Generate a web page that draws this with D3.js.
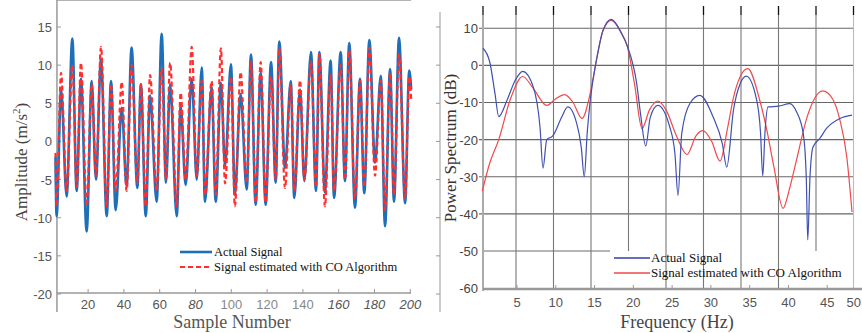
<!DOCTYPE html>
<html>
<head>
<meta charset="utf-8">
<script src="https://cdn.jsdelivr.net/npm/d3@7"></script>
<style>
  body { margin: 0; background: #fff; }
</style>
</head>
<body>
<script>
// left panel: peaks / troughs
var sampleIdx = [1.8, 2.4, 4.9, 8.0, 11.2, 13.6, 16.0, 19.2, 22.0, 24.4,
  27.2, 30.4, 32.8, 35.4, 38.8, 41.5, 44.3, 47.5, 49.5, 52.2,
  54.6, 58.3, 61.1, 63.5, 65.8, 69.5, 71.7, 74.5, 77.9, 80.7,
  83.5, 85.3, 89.0, 91.3, 94.2, 96.5, 99.8, 102.0, 105.2, 108.6,
  111.0, 113.6, 116.4, 119.2, 122.2, 124.8, 126.8, 130.0, 133.2, 135.2,
  138.4, 140.8, 144.5, 147.3, 149.2, 152.3, 155.5, 157.4, 161.1, 163.5,
  165.9, 169.1, 171.9, 174.3, 177.1, 180.3, 183.5, 185.9, 188.7, 190.9,
  193.7, 197.1, 199.4, 200.5];
var actualSig = [-2, -9.8, 6.8, -7.2, 13.5, -6.5, 8.2, -11.8, 7.9, -5,
  10.8, -9.8, 7.9, -9, 4.4, -5.9, 12.3, -6.1, 7.5, -9.8,
  6, -7.9, 14.1, -5.4, 7.5, -9.8, 4.6, -5.7, 8.2, -5,
  9.7, -7.9, 7.1, -7.9, 7.7, -3.2, 10.1, -7, 6.2, -6.3,
  11.4, -8.3, 9, -8.3, 10.4, -5.4, 13.1, -3.5, 7.9, -7.4,
  6.8, -5.2, 11.7, -6.5, 11.7, -6.7, 10.6, -7.4, 11.7, -5.2,
  12.9, -8.7, 8.2, -6.8, 13.3, -2.8, 8.6, -11.1, 9.5, -7.9,
  13.6, -8.1, 9.3, 6.8];
var estSig = [-1.5, -8.5, 9, -6.5, 10, -6, 10.3, -8.5, 7.5, -4.5,
  12.4, -8.5, 7.5, -6.5, 7.8, -6.5, 10, -5.5, 7.5, -8.5,
  8.7, -6.5, 9.6, -5, 10.3, -8.5, 6.4, -5, 12.4, -4.5,
  8, -7, 7.9, -7, 12.2, -5.5, 8.5, -8.5, 9.1, -5.5,
  10.5, -8, 10.4, -8, 8.5, -5, 12.3, -6.1, 7.5, -6.5,
  8, -5, 10.5, -6, 11.5, -8.5, 8.8, -6.5, 10, -5,
  12, -7.5, 8, -6, 12.3, -4.5, 8, -9, 9, -7,
  11.4, -7.5, 8.5, 5.5];
var sampleTicks = [20, 40, 60, 80, 100, 120, 140, 160, 180, 200];
var ampTicks = [-20, -15, -10, -5, 0, 5, 10, 15];

// right panel: power spectrum
var freqA = [0.6, 1.5, 2.2, 2.7, 3.8, 4.9, 5.9, 7.3, 8.2, 8.6, 9.1, 9.9, 11.1, 11.9, 13.1, 13.7, 14.1, 14.5, 14.9,
  15.8, 16.6, 17.7, 19.1, 19.8, 21.1, 21.6, 22.3, 22.9, 23.9, 25.5, 26.2, 26.6, 27.1, 28.2, 29.5,
  31.3, 32.5, 33.1, 34.0, 34.9, 35.7, 37.1, 37.6, 37.9, 38.2, 38.6, 40.0, 41.5, 42.4, 43.3, 43.7,
  43.9, 44.2, 44.6, 45.5, 46.4, 48.2, 49.8];
var powA = [4.6, 0.9, -7.6, -13.8, -9.4, -4, -1.6, -5.8, -16.6, -27.7, -20, -19, -13.9, -11.2, -15.7, -22, -30, -18, -9.4,
  2.2, 9.4, 12.4, 8.5, 5.4, -5, -13, -21.7, -14, -10.8, -16.6, -24, -35, -18.3, -10.2, -8.1,
  -14, -21, -27.4, -12, -4.9, -2.9, -9.4, -18, -29.8, -18, -11.2, -11, -10.3, -12.5, -18.4, -30,
  -47, -30, -22, -19.7, -17, -14.3, -13.4];
var freqE = [0.5, 1.5, 2.7, 4.2, 5.9, 7.3, 9.1, 10.3, 11.5, 12.6, 13.8, 14.9, 15.8, 16.6, 17.7, 19.1, 19.8,
  20.8, 21.8, 22.8, 23.9, 25.0, 26.4, 27.8, 29.0, 29.9, 31.1, 32.2, 33.2, 34.0, 34.9, 35.9,
  37.5, 38.5, 39.4, 40.6, 41.5, 42.4, 43.8, 45.9, 47.2, 48.2, 49.1, 49.8];
var powE = [-33.9, -26.3, -20, -9.4, -3, -6.2, -10.8, -9, -7.9, -10, -14.3, -7.5, 2.2, 9.4, 12.1, 8.5, 5.4,
  -5, -17, -12, -9.6, -12, -19, -24, -19, -17.6, -20.5, -25.8, -17, -8.6, -3, -0.9,
  -9.4, -18, -27.5, -38.5, -33, -25.5, -14, -6.9, -9, -14.8, -24.6, -39.5];
var freqTicks = [5, 10, 15, 20, 25, 30, 35, 40, 45, 50];
var dbTicks = [-60, -50, -40, -30, -20, -10, 0, 10];

var sans = "'Liberation Sans', Arial, sans-serif";
var serif = "'Liberation Serif', 'Times New Roman', serif";

var svg = d3.select("body").append("svg")
    .attr("width", 862)
    .attr("height", 333);

// ---------- left panel ----------
var xS = d3.scaleLinear().domain([0, 200]).range([52.3, 410.3]);
var yA = d3.scaleLinear().domain([-20, 15]).range([294, 27]);
var left = xS(2.6), right = 411, top = 12, bottom = 293;

var L = svg.append("g");

// frame
L.append("line").attr("x1", left).attr("x2", left).attr("y1", top).attr("y2", 312)
  .attr("stroke", "#999").attr("stroke-width", 1.5);
L.append("line").attr("x1", left).attr("x2", right).attr("y1", bottom).attr("y2", bottom)
  .attr("stroke", "#999").attr("stroke-width", 1.5);
L.append("line").attr("x1", left).attr("x2", right).attr("y1", top).attr("y2", top)
  .attr("stroke", "#999").attr("stroke-width", 1.5);

// ticks
L.selectAll(".xtb").data(sampleTicks).enter().append("line")
  .attr("x1", d => xS(d)).attr("x2", d => xS(d))
  .attr("y1", bottom).attr("y2", bottom - 4).attr("stroke", "#999");
L.selectAll(".xtt").data(sampleTicks).enter().append("line")
  .attr("x1", d => xS(d)).attr("x2", d => xS(d))
  .attr("y1", top).attr("y2", top + 4).attr("stroke", "#999");
L.selectAll(".yt").data(ampTicks).enter().append("line")
  .attr("x1", left).attr("x2", left + 4)
  .attr("y1", d => yA(d)).attr("y2", d => yA(d)).attr("stroke", "#999");

L.selectAll(".xl").data(sampleTicks).enter().append("text")
  .attr("x", d => xS(d)).attr("y", 309)
  .attr("text-anchor", "middle")
  .attr("font-family", sans).attr("font-size", 13)
  .attr("font-style", d => (d == 80 || d >= 160) ? "italic" : "normal")
  .attr("fill", d => (d >= 100 && d <= 140) ? "#888" : "#555")
  .text(d => d);
L.selectAll(".yl").data(ampTicks).enter().append("text")
  .attr("x", 52).attr("y", d => yA(d) + 5)
  .attr("text-anchor", "end")
  .attr("font-family", sans).attr("font-size", 13)
  .attr("fill", "#555")
  .text(d => d);

// axis titles
var yt = L.append("text")
  .attr("transform", "translate(27,162) rotate(-90)")
  .attr("text-anchor", "middle")
  .attr("font-family", serif).attr("font-size", 17)
  .attr("fill", "#444");
yt.append("tspan").text("Amplitude (m/s");
yt.append("tspan").attr("font-size", 11).attr("dy", -7).text("2");
yt.append("tspan").attr("dy", 7).text(")");

L.append("text").attr("x", 232).attr("y", 328)
  .attr("text-anchor", "middle")
  .attr("font-family", serif).attr("font-size", 18)
  .attr("fill", "#555").text("Sample Number");

// signals
var sigLine = d3.line().curve(d3.curveMonotoneX)
  .x(d => xS(d[0])).y(d => yA(d[1]));
L.append("path")
  .attr("d", sigLine(sampleIdx.map((s, i) => [s, actualSig[i]])))
  .attr("fill", "none").attr("stroke", "#1f6fb8").attr("stroke-width", 2.6)
  .attr("stroke-linejoin", "round");
L.append("path")
  .attr("d", sigLine(sampleIdx.map((s, i) => [s, estSig[i]])))
  .attr("fill", "none").attr("stroke", "#ff2f2f").attr("stroke-width", 2.2)
  .attr("stroke-dasharray", "5,3");

// legend
L.append("line").attr("x1", 180).attr("x2", 212).attr("y1", 252).attr("y2", 252)
  .attr("stroke", "#1f6fb8").attr("stroke-width", 2.6);
L.append("line").attr("x1", 180).attr("x2", 212).attr("y1", 267).attr("y2", 267)
  .attr("stroke", "#ff2f2f").attr("stroke-width", 2.2).attr("stroke-dasharray", "5,3");
L.append("text").attr("x", 214).attr("y", 256)
  .attr("font-family", serif).attr("font-size", 12.5).attr("fill", "#111")
  .text("Actual Signal");
L.append("text").attr("x", 214).attr("y", 271)
  .attr("font-family", serif).attr("font-size", 12.5).attr("fill", "#111")
  .text("Signal estimated with CO Algorithm");

// ---------- right panel ----------
var xF = d3.scaleLinear().domain([0, 50]).range([478.5, 853.5]);
// the tick labels in the figure sit on a slightly wider spacing than the grid
var xFL = d3.scaleLinear().domain([5, 50]).range([517, 866]);
var yD = d3.scaleLinear().domain([-60, 10]).range([288.2, 28.2]);
var pl = xF(0.6), pr = 853, pt = 15, pb = 289;

var R = svg.append("g");

// stray outer axis
R.append("line").attr("x1", 440).attr("x2", 440).attr("y1", 12).attr("y2", 312)
  .attr("stroke", "#aaa").attr("stroke-width", 1.2);
R.selectAll(".st").data(ampTicks).enter().append("line")
  .attr("x1", 436).attr("x2", 440)
  .attr("y1", d => yA(d)).attr("y2", d => yA(d)).attr("stroke", "#999");

// horizontal grid
R.selectAll(".hg").data(dbTicks.filter(d => d > -50)).enter().append("line")
  .attr("x1", pl - 4).attr("x2", pr)
  .attr("y1", d => yD(d)).attr("y2", d => yD(d))
  .attr("stroke", "#666").attr("stroke-width", 1.1);
R.append("line").attr("x1", pl).attr("x2", 610)
  .attr("y1", yD(-50)).attr("y2", yD(-50))
  .attr("stroke", "#b5b5b5").attr("stroke-width", 2);

// vertical grid
R.selectAll(".vg").data(freqTicks).enter().append("line")
  .attr("x1", d => xF(d)).attr("x2", d => xF(d))
  .attr("y1", pt)
  .attr("y2", d => (d == 20 || d == 45) ? yD(-50) : pb)
  .attr("stroke", d => d == 50 ? "#bbb" : "#777").attr("stroke-width", 1.1);

// top black ticks
R.selectAll(".tt").data([0.6].concat(freqTicks)).enter().append("line")
  .attr("x1", d => xF(d)).attr("x2", d => xF(d))
  .attr("y1", 6).attr("y2", pt)
  .attr("stroke", "#111").attr("stroke-width", 1.3);

// left axis and bottom axis
R.append("line").attr("x1", pl).attr("x2", pl).attr("y1", pt).attr("y2", pb + 2)
  .attr("stroke", "#aaa").attr("stroke-width", 2);
R.append("line").attr("x1", pl).attr("x2", 862).attr("y1", pb).attr("y2", pb)
  .attr("stroke", "#999").attr("stroke-width", 2.5);
R.selectAll(".bt").data(freqTicks).enter().append("line")
  .attr("x1", d => xFL(d)).attr("x2", d => xFL(d))
  .attr("y1", pb).attr("y2", pb - 4)
  .attr("stroke", "#999");

// last label would run off the page, so pin its right edge to the border
R.selectAll(".fl").data(freqTicks).enter().append("text")
  .attr("x", d => d == 50 ? 861 : xFL(d)).attr("y", 307)
  .attr("text-anchor", d => d == 50 ? "end" : "middle")
  .attr("font-family", sans).attr("font-size", 13)
  .attr("fill", "#555").text(d => d);
R.selectAll(".dl").data(dbTicks).enter().append("text")
  .attr("x", 478).attr("y", d => yD(d) + 5)
  .attr("text-anchor", "end")
  .attr("font-family", sans).attr("font-size", 13)
  .attr("fill", "#444").text(d => d);

R.append("text")
  .attr("transform", "translate(456,148) rotate(-90)")
  .attr("text-anchor", "middle")
  .attr("font-family", serif).attr("font-size", 17)
  .attr("fill", "#333").text("Power Spectrum (dB)");
R.append("text").attr("x", 677).attr("y", 328)
  .attr("text-anchor", "middle")
  .attr("font-family", serif).attr("font-size", 18)
  .attr("fill", "#444").text("Frequency (Hz)");

// spectra
var psdLine = d3.line().curve(d3.curveMonotoneX)
  .x(d => xF(d[0])).y(d => yD(d[1]));
R.append("path")
  .attr("d", psdLine(freqE.map((f, i) => [f, powE[i]])))
  .attr("fill", "none").attr("stroke", "#f04a4a").attr("stroke-width", 1.2);
R.append("path")
  .attr("d", psdLine(freqA.map((f, i) => [f, powA[i]])))
  .attr("fill", "none").attr("stroke", "#4050b0").attr("stroke-width", 1.2);

// legend
R.append("line").attr("x1", 614).attr("x2", 650).attr("y1", 258).attr("y2", 258)
  .attr("stroke", "#3040a8").attr("stroke-width", 1.5);
R.append("line").attr("x1", 614).attr("x2", 650).attr("y1", 273).attr("y2", 273)
  .attr("stroke", "#f04a4a").attr("stroke-width", 1.5);
R.append("text").attr("x", 651).attr("y", 262)
  .attr("font-family", serif).attr("font-size", 13).attr("fill", "#111")
  .text("Actual Signal");
R.append("text").attr("x", 651).attr("y", 277)
  .attr("font-family", serif).attr("font-size", 13).attr("fill", "#111")
  .text("Signal estimated with CO Algorithm");
</script>
</body>
</html>
